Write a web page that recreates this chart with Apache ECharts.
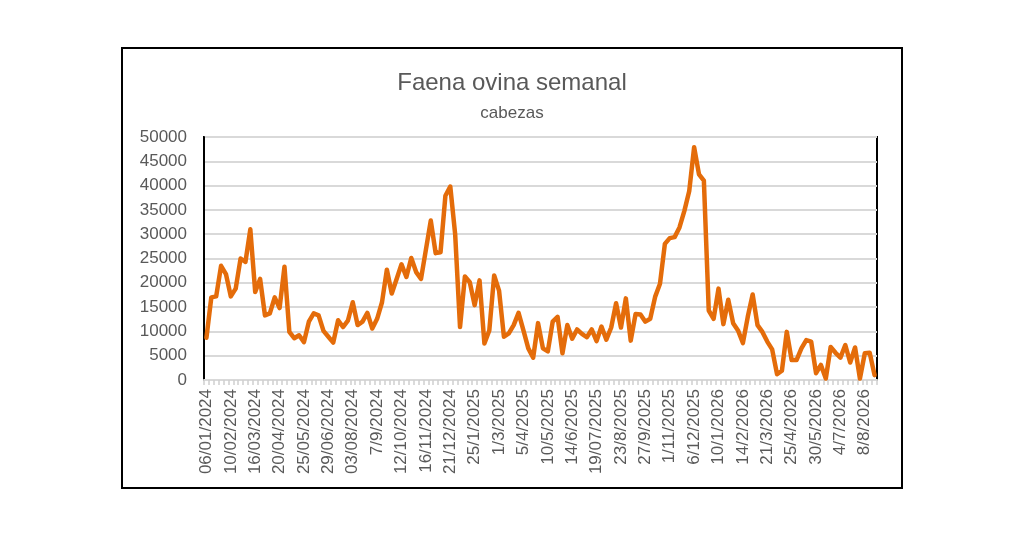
<!DOCTYPE html>
<html>
<head>
<meta charset="utf-8">
<title>Faena ovina semanal</title>
<script src="https://cdn.jsdelivr.net/npm/echarts@6/dist/echarts.min.js"></script>
<style>
    html, body { margin: 0; padding: 0; background: #fff; }
    #chart { width: 1024px; height: 535px; }
</style>
</head>
<body>
<div id="chart"></div>
<script>
// faena semanal, cabezas
var cabezas = [
    8700, 17000, 17200, 23500, 21800, 17200, 18800, 25000, 24300, 31000,
    18100, 20800, 13300, 13700, 17000, 14800, 23300, 9900, 8600, 9200,
    7800, 12000, 13700, 13300, 10100, 8900, 7700, 12300, 10900, 12200,
    16000, 11300, 12000, 13800, 10600, 12600, 16000, 22700, 17800, 20800,
    23800, 21200, 25100, 22200, 20800, 26800, 32800, 26100, 26300, 37900,
    39800, 30000, 10900, 21300, 20100, 15400, 20500, 7500, 10200, 21500,
    18400, 8900, 9600, 11300, 13800, 10200, 6500, 4600, 11700, 6500,
    5900, 12000, 13000, 5500, 11300, 8500, 10400, 9500, 8800, 10400,
    8000, 11000, 8300, 10800, 15800, 10800, 16800, 8100, 13600, 13500,
    12000, 12600, 17100, 19800, 28000, 29200, 29400, 31400, 34800, 38900,
    47900, 42300, 41000, 14300, 12600, 18800, 11500, 16500, 11700, 10200,
    7600, 13000, 17600, 11300, 9900, 7900, 6300, 1200, 1900, 9900,
    4100, 4100, 6500, 8200, 7900, 1400, 3100, 300, 6800, 5600,
    4600, 7200, 3600, 6700, 300, 5500, 5600, 1000
];

// etiquetas del eje x, una cada 5 semanas
var etiquetas = [
    '06/01/2024', '10/02/2024', '16/03/2024', '20/04/2024', '25/05/2024',
    '29/06/2024', '03/08/2024', '7/9/2024', '12/10/2024', '16/11/2024',
    '21/12/2024', '25/1/2025', '1/3/2025', '5/4/2025', '10/5/2025',
    '14/6/2025', '19/07/2025', '23/8/2025', '27/9/2025', '1/11/2025',
    '6/12/2025', '10/1/2026', '14/2/2026', '21/3/2026', '25/4/2026',
    '30/5/2026', '4/7/2026', '8/8/2026'
];

var semanas = cabezas.map(function (v, i) {
    return 'S' + (i + 1);
});

var gris = '#595959';
var fuente = "'Liberation Sans', Arial, sans-serif";

var myChart = echarts.init(document.getElementById('chart'));

var option = {
    backgroundColor: '#fff',
    animation: false,
    title: {
        text: 'Faena ovina semanal',
        subtext: 'cabezas',
        left: 'center',
        top: 66,
        itemGap: 10,
        textStyle: {
            fontFamily: fuente,
            fontSize: 24,
            fontWeight: 'normal',
            color: gris
        },
        subtextStyle: {
            fontFamily: fuente,
            fontSize: 17,
            color: gris
        }
    },
    graphic: [{
        type: 'rect',
        silent: true,
        shape: {x: 122, y: 48, width: 780, height: 440},
        style: {fill: 'none', stroke: '#000', lineWidth: 2}
    }],
    grid: {
        left: 204,
        top: 137,
        right: 147,
        bottom: 155,
        show: true,
        borderColor: '#000',
        borderWidth: 2
    },
    xAxis: {
        type: 'category',
        data: semanas,
        boundaryGap: true,
        axisLine: {lineStyle: {color: '#d9d9d9', width: 2}},
        axisTick: {
            show: true,
            interval: 0,
            length: 5,
            lineStyle: {color: '#d0d0d0', width: 1.5}
        },
        axisLabel: {
            interval: 4,
            rotate: 90,
            margin: 9,
            fontFamily: fuente,
            fontSize: 17,
            color: gris,
            formatter: function (value, index) {
                return index % 5 === 0 ? etiquetas[index / 5] : '';
            }
        },
        splitLine: {show: false}
    },
    yAxis: {
        type: 'value',
        min: 0,
        max: 50000,
        interval: 5000,
        axisLine: {show: true, lineStyle: {color: '#000', width: 2}},
        axisTick: {show: false},
        axisLabel: {
            margin: 17,
            fontFamily: fuente,
            fontSize: 17,
            color: gris,
            formatter: function (v) {
                return String(v);
            }
        },
        splitLine: {lineStyle: {color: '#d9d9d9', width: 2}}
    },
    series: [{
        name: 'Faena ovina',
        type: 'line',
        data: cabezas,
        symbol: 'none',
        smooth: false,
        lineStyle: {color: '#E46C0A', width: 4.5, join: 'round', cap: 'round'}
    }]
};

myChart.setOption(option);
</script>
</body>
</html>
